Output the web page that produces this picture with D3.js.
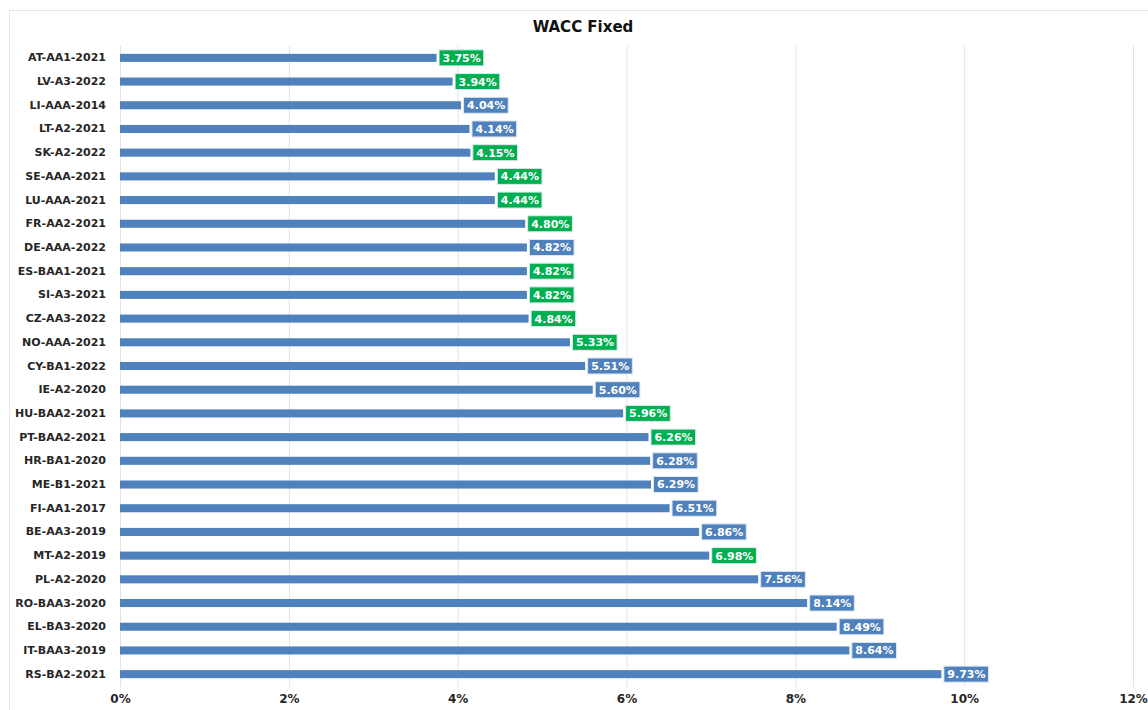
<!DOCTYPE html>
<html lang="en">
<head>
    <meta charset="UTF-8">
    <title>WACC Fixed</title>
    <script src="https://d3js.org/d3.v7.min.js"></script>
    <style>
        body { margin: 0; background: #fff; }
        svg { display: block; font-family: "DejaVu Sans", Verdana, sans-serif; }
    </style>
</head>
<body>
<svg id="chart" width="1148" height="710"></svg>

<script>
    const categories = ['AT-AA1-2021', 'LV-A3-2022', 'LI-AAA-2014', 'LT-A2-2021', 'SK-A2-2022',
        'SE-AAA-2021', 'LU-AAA-2021', 'FR-AA2-2021', 'DE-AAA-2022', 'ES-BAA1-2021', 'SI-A3-2021',
        'CZ-AA3-2022', 'NO-AAA-2021', 'CY-BA1-2022', 'IE-A2-2020', 'HU-BAA2-2021', 'PT-BAA2-2021',
        'HR-BA1-2020', 'ME-B1-2021', 'FI-AA1-2017', 'BE-AA3-2019', 'MT-A2-2019', 'PL-A2-2020',
        'RO-BAA3-2020', 'EL-BA3-2020', 'IT-BAA3-2019', 'RS-BA2-2021'];
    const values = [3.75, 3.94, 4.04, 4.14, 4.15, 4.44, 4.44, 4.80, 4.82, 4.82, 4.82, 4.84, 5.33,
        5.51, 5.60, 5.96, 6.26, 6.28, 6.29, 6.51, 6.86, 6.98, 7.56, 8.14, 8.49, 8.64, 9.73];
    // labels shown in green in the source
    const highlighted = ['AT-AA1-2021', 'LV-A3-2022', 'SK-A2-2022', 'SE-AAA-2021', 'LU-AAA-2021',
        'FR-AA2-2021', 'ES-BAA1-2021', 'SI-A3-2021', 'CZ-AA3-2022', 'NO-AAA-2021', 'HU-BAA2-2021',
        'PT-BAA2-2021', 'MT-A2-2019'];
    const xTicks = [0, 2, 4, 6, 8, 10, 12];

    const BAR_COLOR = '#4f81bd';
    const GREEN = '#00b050';
    const TEXT_COLOR = '#262626';
    const FONT = '"DejaVu Sans", Verdana, sans-serif';

    const data = categories.map((c, i) => ({name: c, value: values[i]}));

    const svg = d3.select('#chart');
    const margin = {top: 46, left: 120};

    // outer chart border
    svg.append('rect')
        .attr('x', 9.5).attr('y', 10.5)
        .attr('width', 1200).attr('height', 800)
        .attr('fill', 'none')
        .attr('stroke', '#e6e6e6');

    const x = d3.scaleLinear().domain([0, 12]).range([margin.left, 1133]);
    const y = d3.scaleBand().domain(categories).range([margin.top, 686]).paddingInner(0.66).paddingOuter(0.33);

    // gridlines
    svg.append('g')
        .selectAll('line')
        .data(xTicks)
        .join('line')
        .attr('x1', d => x(d) + 0.5).attr('x2', d => x(d) + 0.5)
        .attr('y1', margin.top).attr('y2', 687)
        .attr('stroke', '#e3e3e3')
        .attr('stroke-width', 1);

    // title
    svg.append('text')
        .attr('x', 583).attr('y', 32)
        .attr('text-anchor', 'middle')
        .attr('font-size', 15)
        .attr('font-weight', 'bold')
        .attr('fill', '#111')
        .text('WACC Fixed');

    // bars
    svg.append('g')
        .selectAll('rect')
        .data(data)
        .join('rect')
        .attr('x', x(0))
        .attr('y', d => y(d.name))
        .attr('width', d => x(d.value) - x(0))
        .attr('height', y.bandwidth())
        .attr('fill', BAR_COLOR);

    // category labels
    const yAxis = d3.axisLeft(y).tickSize(0).tickPadding(14);
    svg.append('g')
        .attr('transform', `translate(${margin.left},0)`)
        .call(yAxis)
        .call(g => g.select('.domain').remove())
        .selectAll('text')
        .attr('font-size', 11)
        .attr('font-weight', 'bold')
        .attr('font-family', FONT)
        .attr('fill', TEXT_COLOR);

    // x axis labels
    const xAxis = d3.axisBottom(x).tickValues(xTicks).tickSize(0).tickPadding(0).tickFormat(d => d + '%');
    svg.append('g')
        .attr('transform', `translate(0,${694})`)
        .call(xAxis)
        .call(g => g.select('.domain').remove())
        .selectAll('text')
        .attr('font-size', 12)
        .attr('font-weight', 'bold')
        .attr('font-family', FONT)
        .attr('fill', TEXT_COLOR);

    // value labels in boxes
    const labels = svg.append('g')
        .selectAll('g')
        .data(data)
        .join('g')
        .attr('transform', d => `translate(${x(d.value) + 2.5},${y(d.name) + y.bandwidth() / 2})`);

    labels.append('text')
        .attr('x', 3.5)
        .attr('dy', '0.36em')
        .attr('font-size', 11)
        .attr('font-weight', 'bold')
        .attr('fill', '#fff')
        .text(d => d.value.toFixed(2) + '%')
        .each(function(d) { d.tw = this.getComputedTextLength(); });

    labels.insert('rect', 'text')
        .attr('x', 0)
        .attr('y', -8)
        .attr('width', d => d.tw + 6.5)
        .attr('height', 16)
        .attr('fill', d => highlighted.includes(d.name) ? GREEN : BAR_COLOR)
        .attr('stroke', '#dfe8f2')
        .attr('stroke-width', 1);
</script>
</body>
</html>
